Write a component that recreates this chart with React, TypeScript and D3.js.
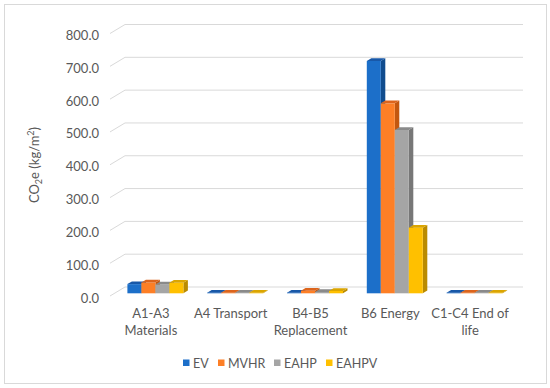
import React from "react";
import { scaleBand, scaleLinear, range } from "d3";

const categories = [
  ["A1-A3", "Materials"],
  ["A4 Transport"],
  ["B4-B5", "Replacement"],
  ["B6 Energy"],
  ["C1-C4 End of", "life"],
];
const seriesNames = ["EV", "MVHR", "EAHP", "EAHPV"];
const ev = [28, 2, 2, 708, 2];
const mvhr = [33, 2, 8, 579, 2];
const eahp = [27, 2, 4, 498, 2];
const eahpv = [32, 2, 7, 200, 2];
const seriesValues = [ev, mvhr, eahp, eahpv];
const yTicks = [0, 100, 200, 300, 400, 500, 600, 700, 800];

// face colours: front, side, top
const colors = [
  ["#1C6FC9", "#104C8E", "#1858A8"],
  ["#FD7F26", "#C3570F", "#DC641C"],
  ["#A5A5A5", "#777777", "#8A8A8A"],
  ["#FFC000", "#BA8B00", "#DBA500"],
];

const FONT = "Lato, 'Open Sans', sans-serif";
const TXT = "#595959";

// 3D depth of the plot box
const DX = 15;
const DY = 9;

export default function App() {
  const W = 550;
  const H = 388;
  const x = scaleBand<number>()
    .domain(range(categories.length))
    .range([111, 510]);
  const yBack = scaleLinear().domain([0, 800]).range([287, 24.5]);

  // point at depth f (0 = front plane, 1 = back wall)
  const px = (xf: number, f: number) => xf + DX * f;
  const py = (v: number, f: number) => yBack(v) + DY * (1 - f);

  const barW = 14;
  const inner = scaleBand<number>()
    .domain(range(seriesNames.length))
    .range([0, barW * seriesNames.length]);
  const fFront = 0.3;
  const fBack = 0.6;

  const bars: React.ReactNode[] = [];
  categories.forEach((_, ci) => {
    const start = x(ci)! + (x.bandwidth() - barW * seriesNames.length) / 2;
    seriesValues.forEach((vals, si) => {
      const v = vals[ci];
      const x0 = px(start + inner(si)!, fFront);
      const x1 = x0 + barW;
      const yt = py(v, fFront);
      const yb = py(0, fFront);
      const ddx = DX * (fBack - fFront);
      const ddy = DY * (fBack - fFront);
      const [cf, cs, ct] = colors[si];
      bars.push(
        <g key={`${ci}-${si}`}>
          <polygon
            points={`${x1},${yt} ${x1 + ddx},${yt - ddy} ${x1 + ddx},${yb - ddy} ${x1},${yb}`}
            fill={cs}
          />
          <rect x={x0} y={yt} width={barW} height={yb - yt} fill={cf} />
          <polygon
            points={`${x0},${yt} ${x1},${yt} ${x1 + ddx},${yt - ddy} ${x0 + ddx},${yt - ddy}`}
            fill={ct}
          />
        </g>
      );
    });
  });

  const legendX = [183, 218, 274, 326];

  return (
    <svg
      width={W}
      height={H}
      style={{ position: "absolute", left: 0, top: 0 }}
      fontFamily={FONT}
    >
      <rect x={0} y={0} width={W} height={H} fill="#fff" />
      <rect x={4.5} y={4.5} width={542} height={379} fill="#fff" stroke="#d9d9d9" />

      {/* gridlines on back wall + left wall diagonals */}
      {yTicks.map((t) => (
        <g key={t}>
          <line
            x1={px(x.range()[0] - 1, 1)}
            x2={px(x.range()[1], 1) - 2}
            y1={yBack(t)}
            y2={yBack(t)}
            stroke="#d9d9d9"
          />
          <line
            x1={px(x.range()[0] - 1, 0)}
            y1={py(t, 0)}
            x2={px(x.range()[0] - 1, 1)}
            y2={yBack(t)}
            stroke="#d9d9d9"
          />
          <text
            x={99}
            y={py(t, 0) + 1.5}
            textAnchor="end"
            dominantBaseline="central"
            fontSize={13}
            fill={TXT}
          >
            {t.toFixed(1)}
          </text>
        </g>
      ))}

      {bars}

      {/* category labels */}
      {categories.map((lines, ci) => (
        <text
          key={ci}
          x={x(ci)! + x.bandwidth() / 2}
          y={313}
          textAnchor="middle"
          fontSize={13}
          fill={TXT}
        >
          {lines.map((l, li) => (
            <tspan
              key={li}
              x={x(ci)! + x.bandwidth() / 2}
              y={313 + li * 16.7}
              dominantBaseline="central"
            >
              {l}
            </tspan>
          ))}
        </text>
      ))}

      {/* y axis title */}
      <text
        transform="translate(39,165) rotate(-90)"
        textAnchor="middle"
        fontSize={13}
        fill={TXT}
      >
        CO
        <tspan fontSize={9} dy={3}>2</tspan>
        <tspan dy={-3}>e (kg/m</tspan>
        <tspan fontSize={9} dy={-5}>2</tspan>
        <tspan dy={5}>)</tspan>
      </text>

      {/* legend */}
      {seriesNames.map((s, si) => (
        <g key={s}>
          <rect x={legendX[si]} y={359.5} width={6.5} height={6.5} fill={colors[si][0]} />
          <text
            x={legendX[si] + 10}
            y={363}
            dominantBaseline="central"
            fontSize={12.5}
            fill={TXT}
          >
            {s}
          </text>
        </g>
      ))}
    </svg>
  );
}
